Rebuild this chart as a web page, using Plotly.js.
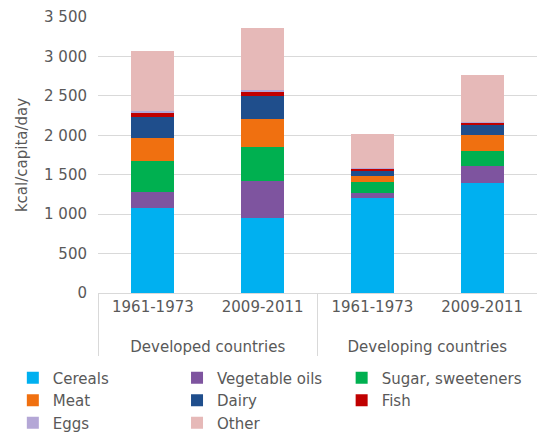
<!DOCTYPE html>
<html>
<head>
<meta charset="utf-8">
<script src="https://cdn.plot.ly/plotly-3.0.1.min.js"></script>
<style>html,body{margin:0;padding:0;background:#fff;}#chart{width:537px;height:435px;}</style>
</head>
<body>
<div id="chart"></div>
<script>
const groups = ["Developed countries", "Developed countries", "Developing countries", "Developing countries"];
const periods = ["1961-1973", "2009-2011", "1961-1973", "2009-2011"];

const seriesNames = ["Cereals", "Vegetable oils", "Sugar, sweeteners", "Meat", "Dairy", "Fish", "Eggs", "Other"];
const cereals = [1075, 950, 1200, 1395];
const vegetableOils = [205, 465, 65, 210];
const sugar = [395, 435, 140, 190];
const meat = [290, 360, 75, 210];
const dairy = [265, 290, 70, 130];
const fish = [50, 55, 25, 20];
const eggs = [30, 20, 10, 15];
const other = [760, 785, 435, 600];

const colors = ["#00B0F0", "#7E549F", "#00B050", "#F07010", "#1F4E8C", "#C00000", "#B4A7D6", "#E6B9B8"];
const values = [cereals, vegetableOils, sugar, meat, dairy, fish, eggs, other];

const font = {family: "DejaVu Sans, Verdana, sans-serif", size: 15, color: "#595959"};

// group labels are pushed down one line, as in the reference
const groupLabels = groups.map(g => "<br>" + g);

// legend laid out in three columns (row-major order), one Plotly legend per column
const legendIds = ["legend", "legend2", "legend3"];

const traces = seriesNames.map((name, i) => ({
  type: "bar",
  name: name,
  x: [groupLabels, periods],
  y: values[i],
  marker: {color: colors[i], line: {width: 0}},
  width: 0.39,
  legend: legendIds[i % 3],
  hoverinfo: "skip"
}));

const legendBase = {
  orientation: "v",
  xanchor: "left",
  y: -0.248,
  yanchor: "top",
  traceorder: "normal",
  font: font,
  itemwidth: 30,
  bgcolor: "rgba(0,0,0,0)"
};

const layout = {
  width: 537,
  height: 435,
  barmode: "stack",
  separators: ". ",
  font: font,
  paper_bgcolor: "#fff",
  plot_bgcolor: "#fff",
  margin: {l: 98, r: 0, t: 17, b: 142, autoexpand: false},
  showlegend: true,
  legend: Object.assign({}, legendBase, {x: -0.194}),
  legend2: Object.assign({}, legendBase, {x: 0.18}),
  legend3: Object.assign({}, legendBase, {x: 0.555}),
  xaxis: {
    type: "multicategory",
    showgrid: false,
    showline: true,
    linecolor: "#d9d9d9",
    linewidth: 1,
    ticks: "",
    showdividers: true,
    dividercolor: "#d9d9d9",
    dividerwidth: 1,
    tickfont: font,
    zeroline: false
  },
  yaxis: {
    range: [0, 3500],
    dtick: 500,
    tick0: 0,
    separatethousands: true,
    showgrid: true,
    gridcolor: "#d9d9d9",
    gridwidth: 1,
    zeroline: false,
    showline: false,
    ticks: "",
    ticklabelstandoff: 10,
    tickfont: font,
    title: {text: "kcal/capita/day", font: font, standoff: 12}
  }
};

Plotly.newPlot("chart", traces, layout, {displayModeBar: false, staticPlot: true});
</script>
</body>
</html>
